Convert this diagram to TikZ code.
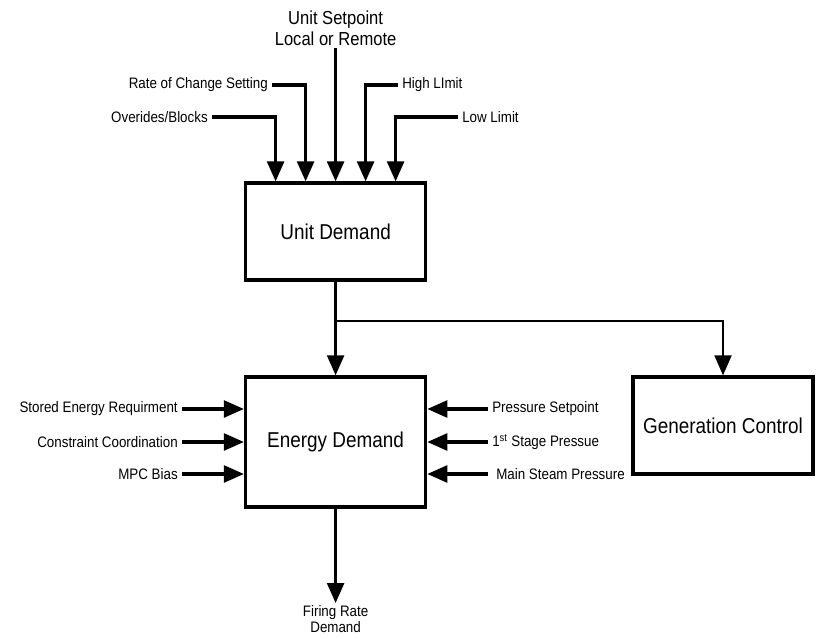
\documentclass[tikz,border=0pt]{standalone}
\usepackage{fontspec}
\setmainfont[FakeStretch=0.88]{Liberation Sans}
\usepackage{tikz}
\usetikzlibrary{arrows.meta, positioning, calc}

\begin{document}
\begin{tikzpicture}[
    block/.style={rectangle, draw, line width=2.4pt, minimum width=4.5cm, minimum height=2.425cm, align=center, font=\fontsize{15.3}{18}\selectfont},
    label/.style={font=\fontsize{10.8}{12.6}\selectfont, inner sep=0.1cm},
    arrow/.style={-{Triangle[length=5mm,width=4.2mm]}, line width=2.2pt}
]
    \useasboundingbox (0,0) rectangle (20.45,-15.975);

    % Blocks
    \node[block] (unit) at (8.39,-5.79) {Unit Demand};
    \node[block, minimum height=3.25cm] (energy) at (8.39,-11.05) {Energy Demand};
    \node[block] (gen) at (18.075,-10.64) {Generation Control};

    % Inputs to unit demand
    \node[align=center, font=\fontsize{13.4}{14.9}\selectfont, inner sep=0.05cm] (setpoint) at (8.39,-0.71) {Unit Setpoint\\Local or Remote};
    \node[label, anchor=east] (rate) at (6.8,-2.125) {Rate of Change Setting};
    \node[label, anchor=east] (overides) at (5.3,-2.925) {Overides/Blocks};
    \node[label, anchor=west] (high) at (9.95,-2.125) {High LImit};
    \node[label, anchor=west] (low) at (11.45,-2.925) {Low Limit};

    % Inputs to energy demand
    \node[label, anchor=east] (stored) at (4.55,-10.225) {Stored Energy Requirment};
    \node[label, anchor=east] (constraint) at (4.55,-11.05) {Constraint Coordination};
    \node[label, anchor=east] (mpc) at (4.55,-11.85) {MPC Bias};
    \node[label, anchor=west] (pressure) at (12.2,-10.225) {Pressure Setpoint};
    \node[label, anchor=west] (stage) at (12.2,-11.05) {1\textsuperscript{st} Stage Pressue};
    \node[label, anchor=west] (steam) at (12.3,-11.85) {Main Steam Pressure};

    % Output
    \node[label, align=center, inner sep=0.05cm, font=\fontsize{10.8}{11.8}\selectfont] (firing) at (8.39,-15.48) {Firing Rate\\Demand};
    \coordinate (split) at (8.39,-8.025);

    % Arrows into unit demand
    \draw[arrow] (setpoint) -- (unit.north);
    \draw[arrow] (rate.east) -| ([xshift=-0.75cm]unit.north);
    \draw[arrow] (overides.east) -| ([xshift=-1.5cm]unit.north);
    \draw[arrow] (high.west) -| ([xshift=0.75cm]unit.north);
    \draw[arrow] (low.west) -| ([xshift=1.5cm]unit.north);

    % Arrows into energy demand
    \draw[arrow] (stored.east) -- (stored.east -| energy.west);
    \draw[arrow] (constraint.east) -- (constraint.east -| energy.west);
    \draw[arrow] (mpc.east) -- (mpc.east -| energy.west);
    \draw[arrow] (pressure.west) -- (pressure.west -| energy.east);
    \draw[arrow] (stage.west) -- (stage.west -| energy.east);
    \draw[arrow] ([xshift=-0.1cm]steam.west) -- (steam.west -| energy.east);

    % Demand split
    \draw[arrow] (unit.south) -- (energy.north);
    \draw[arrow, line width=1.8pt] (split) -| (gen.north);
    \draw[arrow] (energy.south) -- (firing.north);
\end{tikzpicture}
\end{document}
